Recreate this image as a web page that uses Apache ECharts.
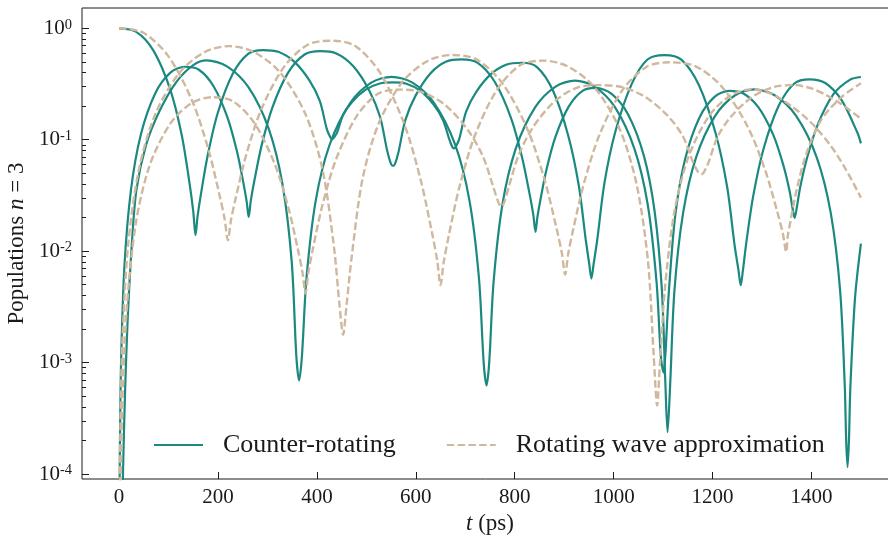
<!DOCTYPE html>
<html><head><meta charset="utf-8">
<script src="https://cdn.jsdelivr.net/npm/echarts@6/dist/echarts.min.js"></script>
<style>html,body{margin:0;padding:0;background:#fff}#c{width:888px;height:536px}</style>
</head><body><div id="c"></div>
<script>
// Each point: [t in ps, log10(population)]
const counterRot1 = [[0,0],[34,-0.03],[69.5,-0.2],[103.5,-0.55],[126.7,-0.96],[142.1,-1.38],[149.9,-1.64],[154.5,-1.857],
[158.6,-1.691],[165.4,-1.491],[179.1,-1.142],[199.5,-0.76],[229.6,-0.411],[261.5,-0.228],[291,-0.195],
[321.8,-0.211],[354,-0.299],[384.8,-0.467],[405.8,-0.652],[419.8,-0.9],[426.8,-0.975],[431,-0.996],
[434.7,-0.978],[440.8,-0.935],[453.1,-0.776],[471.6,-0.659],[498.7,-0.551],[526.9,-0.495],[554,-0.485],
[581.1,-0.497],[609.3,-0.562],[636.4,-0.687],[654.9,-0.823],[667.2,-0.99],[673.3,-1.06],[677,-1.078],
[681.1,-1.06],[688,-0.99],[701.7,-0.747],[722.2,-0.57],[752.4,-0.409],[783.9,-0.324],[814,-0.309],
[845,-0.348],[877.5,-0.561],[908.5,-0.968],[929.6,-1.413],[943.7,-1.9],[950.8,-2.12],[955,-2.246],
[959.4,-2.12],[966.8,-1.9],[981.6,-1.383],[1003.8,-0.922],[1036.4,-0.501],[1068.4,-0.28],[1103,-0.24],
[1136.9,-0.281],[1172.3,-0.509],[1206.2,-0.942],[1229.3,-1.418],[1244.7,-1.95],[1252.4,-2.17],[1257,-2.306],
[1261.2,-2.18],[1268.1,-1.93],[1282,-1.511],[1302.9,-1.086],[1333.5,-0.698],[1365.4,-0.495],[1396,-0.458],
[1428,-0.491],[1461.25,-0.647],[1493.2,-0.94],[1500,-1.033]];

const counterRot2 = [[0,-6],[1,-4.2],[2,-3.6],[4,-3.0],[10.6,-2.149],[23.9,-1.454],[43.9,-0.955],[73.2,-0.583],[103.7,-0.398],[133,-0.345],
[161.4,-0.372],[191,-0.52],[219.4,-0.803],[238.8,-1.113],[251.7,-1.396],[258.1,-1.558],[262,-1.693],
[266.4,-1.544],[273.6,-1.366],[288.1,-1.053],[309.9,-0.711],[341.8,-0.398],[375.1,-0.235],[407,-0.205],
[439.3,-0.226],[473.2,-0.339],[505.5,-0.555],[527.5,-0.792],[542.2,-1.1],[549.6,-1.215],[554,-1.235],
[558.1,-1.215],[565,-1.11],[578.8,-0.824],[599.5,-0.604],[629.9,-0.403],[661.6,-0.298],[692,-0.279],
[725,-0.31],[759.5,-0.48],[792.5,-0.805],[815,-1.161],[830,-1.486],[837.5,-1.672],[842,-1.827],
[845.7,-1.698],[851.8,-1.543],[864,-1.271],[882.3,-0.974],[909.1,-0.703],[937.2,-0.561],[964,-0.535],
[995.9,-0.588],[1029.3,-0.773],[1061.2,-1.145],[1082.9,-1.644],[1097.4,-2.339],[1104.65,-3.189],[1109,-3.624],
[1114.25,-3.202],[1123,-2.352],[1140.5,-1.657],[1166.75,-1.158],[1205.25,-0.786],[1245.5,-0.601],[1284,-0.548],
[1325.6,-0.601],[1369,-0.786],[1410.6,-1.158],[1439,-1.657],[1457.9,-2.352],[1467.3,-3.202],[1470.2,-3.7],[1473,-3.939],
[1475.8,-3.7],[1478.7,-3.22],[1488.1,-2.42],[1500,-1.932]];

const counterRot3 = [[0,-7],[3,-5.6],[6,-4.5],[8,-3.97],[12,-3.27],[17,-2.65],[25,-1.99],[35,-1.45],[55,-1.04],[82,-0.74],[116,-0.48],[150,-0.33],[177,-0.288],
[218.1,-0.341],[261.2,-0.526],[302.3,-0.898],[330.3,-1.397],[349,-2.092],[358.4,-2.942],[364,-3.16],
[369.6,-2.95],[379,-2.239],[397.7,-1.544],[425.7,-1.045],[466.9,-0.673],[509.9,-0.488],[551,-0.435],
[593.2,-0.488],[637.4,-0.673],[679.6,-1.045],[708.4,-1.544],[727.6,-2.239],[737.2,-3.0],[743,-3.205],
[748.4,-3.0],[757.3,-2.274],[775.2,-1.579],[802.1,-1.08],[841.5,-0.708],[882.6,-0.523],[922,-0.47],
[961.4,-0.523],[1002.6,-0.708],[1041.9,-1.08],[1068.8,-1.579],[1086.7,-2.274],[1095.6,-2.95],[1101,-3.09],
[1105,-2.9],[1111.6,-2.366],[1124.8,-1.671],[1144.6,-1.172],[1173.6,-0.8],[1204,-0.615],[1233,-0.562],
[1262.3,-0.585],[1292.9,-0.71],[1322.1,-0.95],[1342.1,-1.212],[1355.4,-1.451],[1362,-1.62],[1366,-1.702],
[1370.3,-1.61],[1377.5,-1.42],[1391.9,-1.151],[1413.5,-0.856],[1445.2,-0.587],[1478.3,-0.46],[1500,-0.437]];

const rwa1 = [[0,0],[48.4,-0.038],[99,-0.247],[147.4,-0.647],[180.4,-1.084],[202.4,-1.484],[213.4,-1.712],[220,-1.902],
[226.2,-1.723],[236.6,-1.508],[257.3,-1.132],[288.3,-0.72],[333.9,-0.344],[381.5,-0.147],[427,-0.111],
[476.1,-0.155],[527.35,-0.396],[576.4,-0.857],[609.9,-1.362],[632.2,-1.823],[643.3,-2.086],[650,-2.306],
[656.2,-2.104],[666.6,-1.862],[687.3,-1.439],[718.3,-0.975],[763.9,-0.552],[811.5,-0.33],[857,-0.29],
[907.8,-0.343],[961,-0.528],[1011.8,-0.9],[1046.4,-1.399],[1069.5,-2.094],[1081.1,-2.944],[1088,-3.385],
[1093.7,-3.0],[1103.3,-2.352],[1122.4,-1.657],[1151,-1.158],[1193,-0.786],[1237,-0.601],[1279,-0.548],
[1320,-0.59],[1360,-0.7],[1400,-0.85],[1440,-1.06],[1470,-1.27],[1500,-1.52]];

const rwa2 = [[0,-7],[0.5,-5.06],[1.5,-4.11],[3.3,-3.416],[6.7,-2.814],[17.8,-1.964],[40,-1.269],[73.3,-0.77],[122.1,-0.398],[173.2,-0.213],[222,-0.16],
[272.8,-0.213],[325.95,-0.398],[376.8,-0.77],[411.4,-1.269],[434.5,-1.964],[446.1,-2.5],[453,-2.75],
[459.6,-2.5],[470.5,-2.044],[492.4,-1.349],[525.3,-0.85],[573.5,-0.478],[623.8,-0.293],[672,-0.24],
[722.6,-0.279],[775.5,-0.496],[826.1,-0.91],[860.6,-1.363],[883.6,-1.777],[895.1,-2.013],[902,-2.21],
[908.3,-2.019],[918.9,-1.791],[940,-1.391],[971.6,-0.953],[1018,-0.553],[1067.6,-0.343],[1113,-0.305],
[1164.9,-0.339],[1219.2,-0.526],[1271.1,-0.884],[1306.5,-1.275],[1330.1,-1.633],[1341.9,-1.837],[1349,-2.007],
[1352,-1.87],[1358,-1.72],[1370,-1.45],[1390,-1.12],[1420,-0.82],[1460,-0.62],[1500,-0.494]];

const rwa3 = [[0,-7],[1,-5.2],[2.8,-4.3],[5.6,-3.5],[15,-2.55],[33.8,-1.75],[62,-1.228],[103.4,-0.856],[146.6,-0.671],[188,-0.618],
[229.6,-0.653],[273.05,-0.847],[314.6,-1.217],[343,-1.622],[361.9,-1.992],[371.3,-2.204],[377,-2.38],
[382.6,-2.197],[392,-1.977],[410.8,-1.593],[439,-1.172],[480.4,-0.788],[523.6,-0.587],[565,-0.55],
[610.8,-0.571],[658.6,-0.686],[704.4,-0.907],[735.6,-1.148],[756.4,-1.42],[766.8,-1.56],[773,-1.6],
[778.9,-1.56],[788.8,-1.41],[808.5,-1.131],[838,-0.881],[881.4,-0.652],[926.7,-0.532],[970,-0.51],
[1015.5,-0.526],[1063.2,-0.614],[1108.7,-0.782],[1139.7,-0.966],[1160.4,-1.2],[1170.8,-1.29],[1177,-1.31],
[1182.7,-1.29],[1192.1,-1.2],[1211,-0.966],[1239.4,-0.782],[1281,-0.614],[1324.4,-0.526],[1366,-0.51],
[1400,-0.54],[1430,-0.6],[1460,-0.68],[1500,-0.81]];

const xTicks = [0,200,400,600,800,1000,1200,1400];
const yDecades = [-4,-3,-2,-1,0];
const legendNames = ['Counter-rotating','Rotating wave approximation'];

const TEAL = '#1b897f', TAN = '#cfb89d', INK = '#1a1a1a';
const FONT = '"Liberation Serif", "Times New Roman", serif';
const minorTicks = [];
for (let n = -4; n <= -1; n++) for (let k = 2; k <= 9; k++) minorTicks.push(n + Math.log10(k));

const mk = (name, data, dashed) => ({
  name, type: 'line', data, showSymbol: false, symbol: 'none',
  smooth: 0.3, clip: true, silent: true,
  lineStyle: {color: dashed ? TAN : TEAL, width: dashed ? 2.4 : 2.2, type: dashed ? [7.5, 3.3] : 'solid'},
  itemStyle: {color: dashed ? TAN : TEAL}, z: dashed ? 3 : 2
});

const chart = echarts.init(document.getElementById('c'), null, {renderer: 'canvas'});
chart.setOption({
  animation: false,
  backgroundColor: '#fff',
  grid: {left: 82, top: 8, width: 816, height: 471, show: true, borderColor: INK, borderWidth: 1,
         backgroundColor: 'transparent', containLabel: false, outerBoundsMode: 'none'},
  xAxis: {type: 'value', min: -75, max: 1575, position: 'bottom',
    axisLine: {show: false, onZero: false}, splitLine: {show: false},
    axisTick: {show: true, inside: true, length: 7, customValues: xTicks, lineStyle: {color: INK, width: 1}},
    axisLabel: {customValues: xTicks, margin: 8, color: INK, fontFamily: FONT, fontSize: 21,
      formatter: v => String(Math.round(v))},
    name: '{i|t} (ps)', nameLocation: 'middle', nameGap: 27,
    nameTextStyle: {color: INK, fontFamily: FONT, fontSize: 23,
      rich: {i: {fontStyle: 'italic', fontFamily: FONT, fontSize: 23, color: INK}}}},
  yAxis: [{type: 'value', min: -4.045, max: 0.1823, position: 'left',
    axisLine: {show: false, onZero: false}, splitLine: {show: false},
    axisTick: {show: true, inside: true, length: 7, customValues: yDecades, lineStyle: {color: INK, width: 1}},
    axisLabel: {customValues: yDecades, margin: 10, color: INK,
      formatter: v => '{b|10}{s|' + String(Math.round(v)) + '}',
      rich: {b: {fontFamily: FONT, fontSize: 21, color: INK, lineHeight: 22},
             s: {fontFamily: FONT, fontSize: 14.5, color: INK, verticalAlign: 'top', lineHeight: 14}}},
    name: '{r|Populations }{i|n}{r| = 3}', nameLocation: 'middle', nameGap: 44, nameRotate: 90,
    nameTextStyle: {color: INK, fontFamily: FONT, fontSize: 23,
      rich: {r: {fontFamily: FONT, fontSize: 23, color: INK}, i: {fontStyle: 'italic', fontFamily: FONT, fontSize: 23, color: INK}}}},
   {type: 'value', min: -4.045, max: 0.1823, position: 'left',
    axisLine: {show: false, onZero: false}, splitLine: {show: false}, axisLabel: {show: false},
    axisTick: {show: true, inside: true, length: 4, customValues: minorTicks, lineStyle: {color: INK, width: 1}}}],
  legend: {left: 153, top: 432, padding: 0, itemWidth: 49, itemHeight: 14, itemGap: 50,
    itemStyle: {opacity: 0},
    textStyle: {color: INK, fontFamily: FONT, fontSize: 26, lineHeight: 26, padding: [0, 0, 0, 15]},
    data: legendNames},
  series: [
    mk(legendNames[0], counterRot1, false), mk(legendNames[0], counterRot2, false), mk(legendNames[0], counterRot3, false),
    mk(legendNames[1], rwa1, true), mk(legendNames[1], rwa2, true), mk(legendNames[1], rwa3, true)
  ]
});
</script></body></html>
